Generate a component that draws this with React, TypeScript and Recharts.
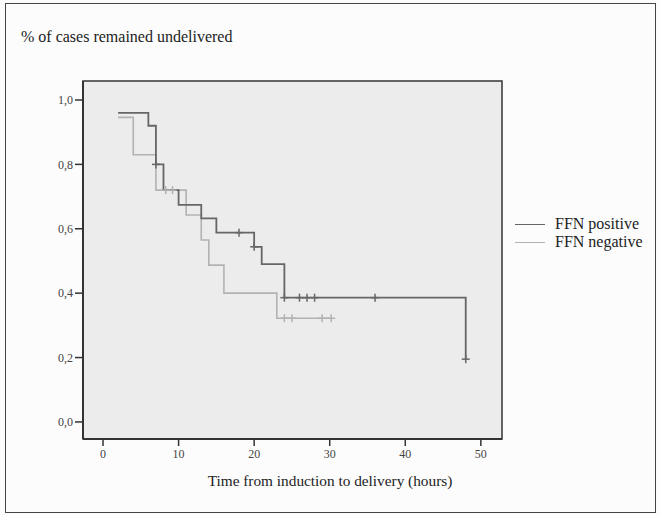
import { ComposedChart, Line, Scatter, XAxis, YAxis, ReferenceArea } from 'recharts'

// survival steps: time (hours) where the curve drops, and the new value
const posTimes = [2, 6, 7, 8, 10, 13, 15, 20, 21, 24, 48]
const posValues = [0.96, 0.92, 0.8, 0.72, 0.674, 0.632, 0.588, 0.544, 0.49, 0.386, 0.195]
const negTimes = [2, 4, 7, 11, 13, 14, 16, 23, 30.3]
const negValues = [0.946, 0.83, 0.72, 0.643, 0.565, 0.487, 0.4, 0.322, 0.322]
// censored cases
const posCensorT = [7, 18, 20, 24, 26, 27, 28, 36, 48]
const posCensorS = [0.8, 0.588, 0.544, 0.386, 0.386, 0.386, 0.386, 0.386, 0.195]
const negCensorT = [8.3, 9.2, 24, 25, 29, 30.2]
const negCensorS = [0.72, 0.72, 0.322, 0.322, 0.322, 0.322]

const xTicks = [0, 10, 20, 30, 40, 50]
const yTicks = [0, 0.2, 0.4, 0.6, 0.8, 1.0]
const X_DOMAIN: [number, number] = [-2.65, 52.8]
const Y_DOMAIN: [number, number] = [-0.053, 1.059]

const DARK = '#666'
const LIGHT = '#b2b2b2'

const zip = (t: number[], s: number[]) => t.map((v, i) => ({ t: v, s: s[i] }))
const posData = zip(posTimes, posValues)
const negData = zip(negTimes, negValues)
const posCensor = zip(posCensorT, posCensorS)
const negCensor = zip(negCensorT, negCensorS)

// censor mark: small plus sign
const tickMark = (color: string) => (p: any) => (
  <g stroke={color} strokeWidth={1.5}>
    <line x1={p.cx} y1={p.cy - 4} x2={p.cx} y2={p.cy + 4} />
    <line x1={p.cx - 4} y1={p.cy} x2={p.cx + 4} y2={p.cy} />
  </g>
)

const serif = '"Liberation Serif", "Times New Roman", "DejaVu Serif", serif'
const tickStyle = { fontSize: 12, fill: '#444', fontFamily: serif }

export default function App() {
  return (
    <div style={{ position: 'absolute', left: 0, top: 0, width: 660, height: 515, background: '#fcfcfc' }}>
      <div style={{ position: 'absolute', left: 5, top: 3, width: 649, height: 508, border: '1.5px solid #444' }} />
      <div style={{ position: 'absolute', left: 21, top: 28, fontSize: 16, color: '#222', fontFamily: serif, whiteSpace: 'nowrap' }}>
        % of cases remained undelivered
      </div>
      <ComposedChart width={660} height={515} margin={{ top: 81, right: 158, bottom: 36, left: 40 }}>
        <XAxis type="number" dataKey="t" domain={X_DOMAIN} ticks={xTicks} allowDataOverflow
          tick={tickStyle} tickSize={7} tickMargin={3} axisLine={{ stroke: '#333', strokeWidth: 2 }}
          tickLine={{ stroke: '#333', strokeWidth: 1.5 }} height={40} />
        <YAxis type="number" dataKey="s" domain={Y_DOMAIN} ticks={yTicks} allowDataOverflow
          tickFormatter={(v: number) => v.toFixed(1).replace('.', ',')}
          tick={tickStyle} tickSize={8} tickMargin={2} axisLine={{ stroke: '#333', strokeWidth: 2 }}
          tickLine={{ stroke: '#333', strokeWidth: 1.5 }} width={43} />
        <ReferenceArea x1={X_DOMAIN[0]} x2={X_DOMAIN[1]} y1={Y_DOMAIN[0]} y2={Y_DOMAIN[1]}
          fill="#ececec" fillOpacity={1} stroke="#333" strokeWidth={1.5} />
        <Line data={negData} dataKey="s" type="stepAfter" stroke={LIGHT} strokeWidth={1.6} dot={false} isAnimationActive={false} />
        <Line data={posData} dataKey="s" type="stepAfter" stroke={DARK} strokeWidth={1.8} dot={false} isAnimationActive={false} />
        <Scatter data={negCensor} dataKey="s" shape={tickMark(LIGHT)} isAnimationActive={false} />
        <Scatter data={posCensor} dataKey="s" shape={tickMark(DARK)} isAnimationActive={false} />
      </ComposedChart>
      <div style={{ position: 'absolute', left: 180, top: 472, width: 300, textAlign: 'center', fontSize: 15.3, color: '#222', fontFamily: serif, whiteSpace: 'nowrap' }}>
        Time from induction to delivery (hours)
      </div>
      {[
        { name: 'FFN positive', color: DARK, top: 215 },
        { name: 'FFN negative', color: LIGHT, top: 233 },
      ].map(it => (
        <div key={it.name} style={{ position: 'absolute', left: 515, top: it.top, display: 'flex', alignItems: 'center', fontSize: 16, color: '#222', fontFamily: serif, whiteSpace: 'nowrap' }}>
          <span style={{ display: 'inline-block', width: 30, borderTop: `1.5px solid ${it.color}`, marginRight: 10 }} />
          {it.name}
        </div>
      ))}
    </div>
  )
}
